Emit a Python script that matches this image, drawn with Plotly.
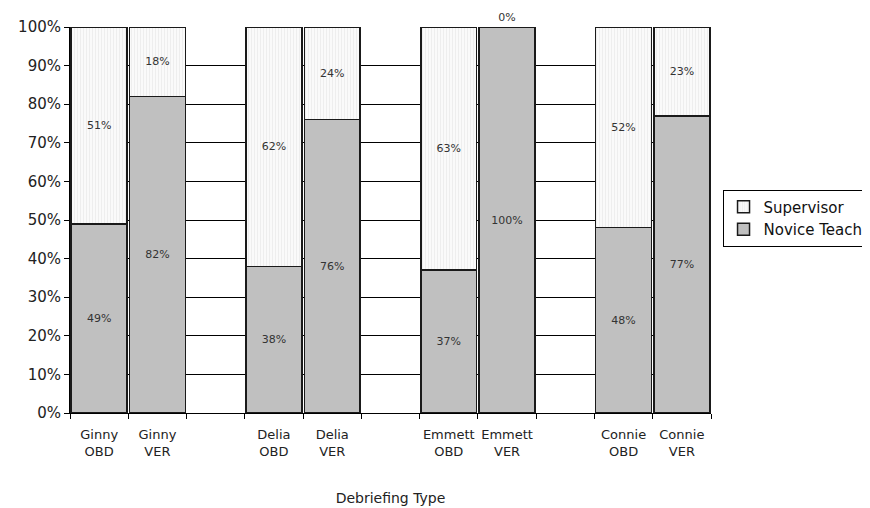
import plotly.graph_objects as go

categories = ["Ginny<br>OBD", "Ginny<br>VER", " ",
              "Delia<br>OBD", "Delia<br>VER", "  ",
              "Emmett<br>OBD", "Emmett<br>VER", "   ",
              "Connie<br>OBD", "Connie<br>VER"]
novice = [49, 82, None, 38, 76, None, 37, 100, None, 48, 77]
supervisor = [51, 18, None, 62, 24, None, 63, 0, None, 52, 23]
y_ticks = [0, 10, 20, 30, 40, 50, 60, 70, 80, 90, 100]
y_tick_labels = [f"{v}%" for v in y_ticks]

FONT = "DejaVu Sans"


def labels(vals):
    return [("" if v is None else f"{v}%") for v in vals]


def positions(vals):
    return [("outside" if v == 0 else "inside") for v in vals]


fig = go.Figure()
fig.add_trace(go.Bar(
    x=categories, y=novice, name="Novice Teacher",
    marker=dict(color="#c0c0c0", line=dict(color="#1a1a1a", width=1.5)),
    text=labels(novice), textposition="inside", insidetextanchor="middle",
    textfont=dict(family=FONT, size=11, color="#333333"),
    constraintext="none", cliponaxis=False, hoverinfo="skip",
))
fig.add_trace(go.Bar(
    x=categories, y=supervisor, name="Supervisor",
    marker=dict(color="#f6f6f6",
                pattern=dict(shape="|", fgcolor="#e2e2e2", bgcolor="#fafafa",
                             size=3, solidity=0.35),
                line=dict(color="#1a1a1a", width=1.5)),
    text=labels(supervisor), textposition=positions(supervisor),
    insidetextanchor="middle",
    textfont=dict(family=FONT, size=11, color="#333333"),
    constraintext="none", cliponaxis=False, hoverinfo="skip",
))

fig.update_layout(
    width=870, height=508,
    barmode="stack", bargap=0.04,
    paper_bgcolor="white", plot_bgcolor="white",
    margin=dict(l=62, r=167, t=19, b=103, autoexpand=False),
    font=dict(family=FONT, color="#222222"),
    showlegend=True,
    legend=dict(x=1.018, y=0.505, xanchor="left", yanchor="middle",
                traceorder="reversed",
                bordercolor="#000000", borderwidth=1, bgcolor="white",
                font=dict(family=FONT, size=15, color="#111111"),
                itemwidth=30, tracegroupgap=0),
)
fig.update_xaxes(
    type="category", showline=True, linecolor="#000000", linewidth=1,
    ticks="outside", tickson="boundaries", ticklen=5, tickcolor="#000000",
    tickangle=0, automargin=False, ticklabelstandoff=9,
    tickfont=dict(family=FONT, size=13, color="#222222"),
    title=dict(text="Debriefing Type", font=dict(family=FONT, size=14, color="#222222"),
               standoff=35),
    showgrid=False, zeroline=False,
)
fig.update_yaxes(
    range=[0, 100], tickvals=y_ticks, ticktext=y_tick_labels,
    showline=True, linecolor="#000000", linewidth=1, automargin=False,
    ticks="outside", ticklen=5, tickcolor="#000000",
    tickfont=dict(family=FONT, size=15, color="#222222"),
    showgrid=True, gridcolor="#000000", gridwidth=1, zeroline=False,
)

fig.write_html("out.html")
